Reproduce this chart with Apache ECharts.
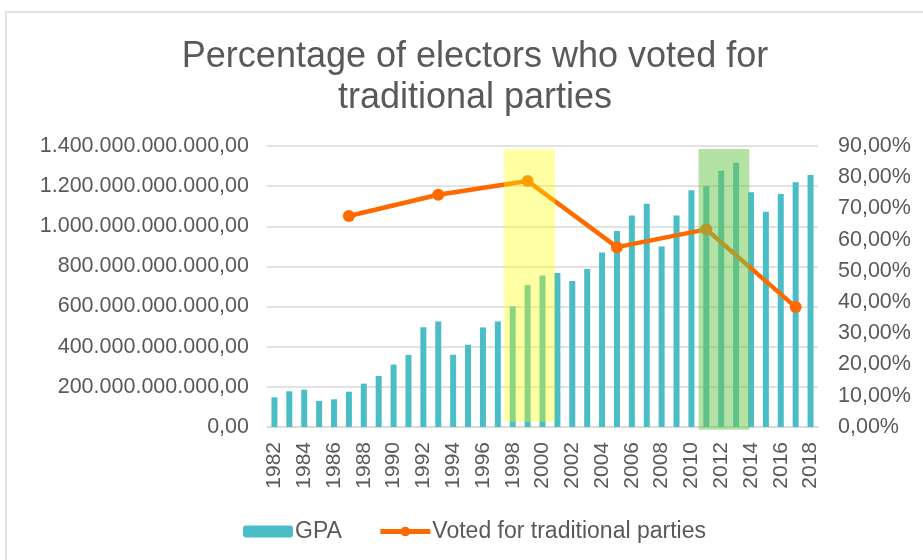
<!DOCTYPE html>
<html>
<head>
<meta charset="utf-8">
<script src="https://cdn.jsdelivr.net/npm/echarts@6/dist/echarts.min.js"></script>
<style>
  html, body { margin: 0; padding: 0; background: #fff; }
  #chart { width: 923px; height: 560px; }
</style>
</head>
<body>
<div id="chart"></div>
<script>
// Years on the category axis
const years = [];
for (let y = 1982; y <= 2018; y++) years.push(String(y));

// GPA per year, in billions
const gpaBillions = [
  148, 178, 186, 130, 138, 176, 216, 254, 311, 359,
  497, 526, 360, 410, 496, 526, 601, 708, 755, 767,
  727, 787, 870, 977, 1054, 1112, 899, 1054, 1179, 1199,
  1277, 1316, 1170, 1073, 1161, 1219, 1256
];

// Election years and share of electors who voted for traditional parties (%)
const electionYears = ['1987', '1993', '1999', '2005', '2011', '2017'];
const votedTraditional = [67.6, 74.4, 78.8, 57.6, 63.3, 38.4];

// Shaded periods: [from, to] on a continuous year scale, with vertical extent in billions
const highlightRanges = [
  { from: 1997.43, to: 2000.84, top: 1384, bottom: 26, color: 'rgba(255,255,0,0.36)' },
  { from: 2010.48, to: 2013.89, top: 1385, bottom: -14, color: 'rgba(112,200,80,0.52)' }
];

const gpaData = gpaBillions.map(v => v * 1e9);
const voteData = years.map(y => {
  const i = electionYears.indexOf(y);
  return i >= 0 ? votedTraditional[i] / 100 : null;
});

const FONT = '"Liberation Sans", Arial, sans-serif';
const TEXT = '#595959';
const GRID = '#d9d9d9';

function fmtMoney(v) {
  const int = Math.round(v).toString().replace(/\B(?=(\d{3})+(?!\d))/g, '.');
  return int + ',00';
}
function fmtPct(v) {
  return (v * 100).toFixed(2).replace('.', ',') + '%';
}

const chart = echarts.init(document.getElementById('chart'), null, { renderer: 'canvas' });

chart.setOption({
  backgroundColor: '#ffffff',
  animation: false,
  textStyle: { fontFamily: FONT },
  title: {
    text: 'Percentage of electors who voted for\ntraditional parties',
    left: 470,
    textAlign: 'center',
    top: 32,
    textStyle: {
      fontFamily: FONT,
      fontSize: 36,
      fontWeight: 'normal',
      color: TEXT,
      lineHeight: 41
    }
  },
  legend: {
    left: 238,
    top: 515,
    itemWidth: 50,
    itemHeight: 12,
    itemGap: 36,
    lineStyle: { width: 5 },
    textStyle: { fontFamily: FONT, fontSize: 23, color: TEXT, padding: [0, 0, 0, -3] },
    data: [
      { name: 'GPA' },
      { name: 'Voted for traditional parties', itemStyle: { color: '#ff6a00' } }
    ]
  },
  grid: { left: 267, right: 105, top: 146, bottom: 133, containLabel: false },
  xAxis: [
    {
      type: 'category',
      data: years,
      axisLine: { lineStyle: { color: GRID, width: 1.5 } },
      axisTick: { show: false },
      axisLabel: {
        rotate: 90,
        interval: 1,
        margin: 15,
        fontFamily: FONT,
        fontSize: 21,
        color: TEXT
      }
    },
    {
      type: 'value',
      min: 1981.5,
      max: 2018.5,
      show: false
    }
  ],
  yAxis: [
    {
      type: 'value',
      min: 0,
      max: 1.4e12,
      interval: 2e11,
      axisLine: { show: false },
      axisTick: { show: false },
      splitLine: { lineStyle: { color: GRID, width: 1.5 } },
      axisLabel: {
        margin: 18,
        fontFamily: FONT,
        fontSize: 21.5,
        color: TEXT,
        formatter: fmtMoney
      }
    },
    {
      type: 'value',
      min: 0,
      max: 0.9,
      interval: 0.1,
      axisLine: { show: false },
      axisTick: { show: false },
      splitLine: { show: false },
      axisLabel: {
        margin: 20,
        fontFamily: FONT,
        fontSize: 21.5,
        color: TEXT,
        formatter: fmtPct
      }
    }
  ],
  series: [
    {
      name: 'GPA',
      type: 'bar',
      data: gpaData,
      barWidth: 6,
      itemStyle: { color: '#4bbdc6' },
      z: 2
    },
    {
      name: 'Voted for traditional parties',
      type: 'line',
      yAxisIndex: 1,
      data: voteData,
      connectNulls: true,
      showSymbol: true,
      showAllSymbol: true,
      symbol: 'circle',
      symbolSize: 12,
      itemStyle: { color: '#ff6a00' },
      lineStyle: { color: '#ff6a00', width: 4.5 },
      z: 3
    }
  ]
});

// Shaded periods and the outer frame, positioned through the chart's own scales
function drawOverlays() {
  const rects = highlightRanges.map(r => {
    const x1 = chart.convertToPixel({ xAxisIndex: 1 }, r.from);
    const x2 = chart.convertToPixel({ xAxisIndex: 1 }, r.to);
    const y1 = chart.convertToPixel({ yAxisIndex: 0 }, r.top * 1e9);
    const y2 = chart.convertToPixel({ yAxisIndex: 0 }, r.bottom * 1e9);
    return {
      type: 'rect',
      z: 100,
      silent: true,
      shape: { x: x1, y: y1, width: x2 - x1, height: y2 - y1 },
      style: { fill: r.color }
    };
  });
  rects.push({
    type: 'rect',
    z: 100,
    silent: true,
    shape: { x: 6, y: 12, width: 1000, height: 700 },
    style: { fill: 'none', stroke: GRID, lineWidth: 1.5 }
  });
  chart.setOption({ graphic: rects });
}
drawOverlays();
</script>
</body>
</html>
